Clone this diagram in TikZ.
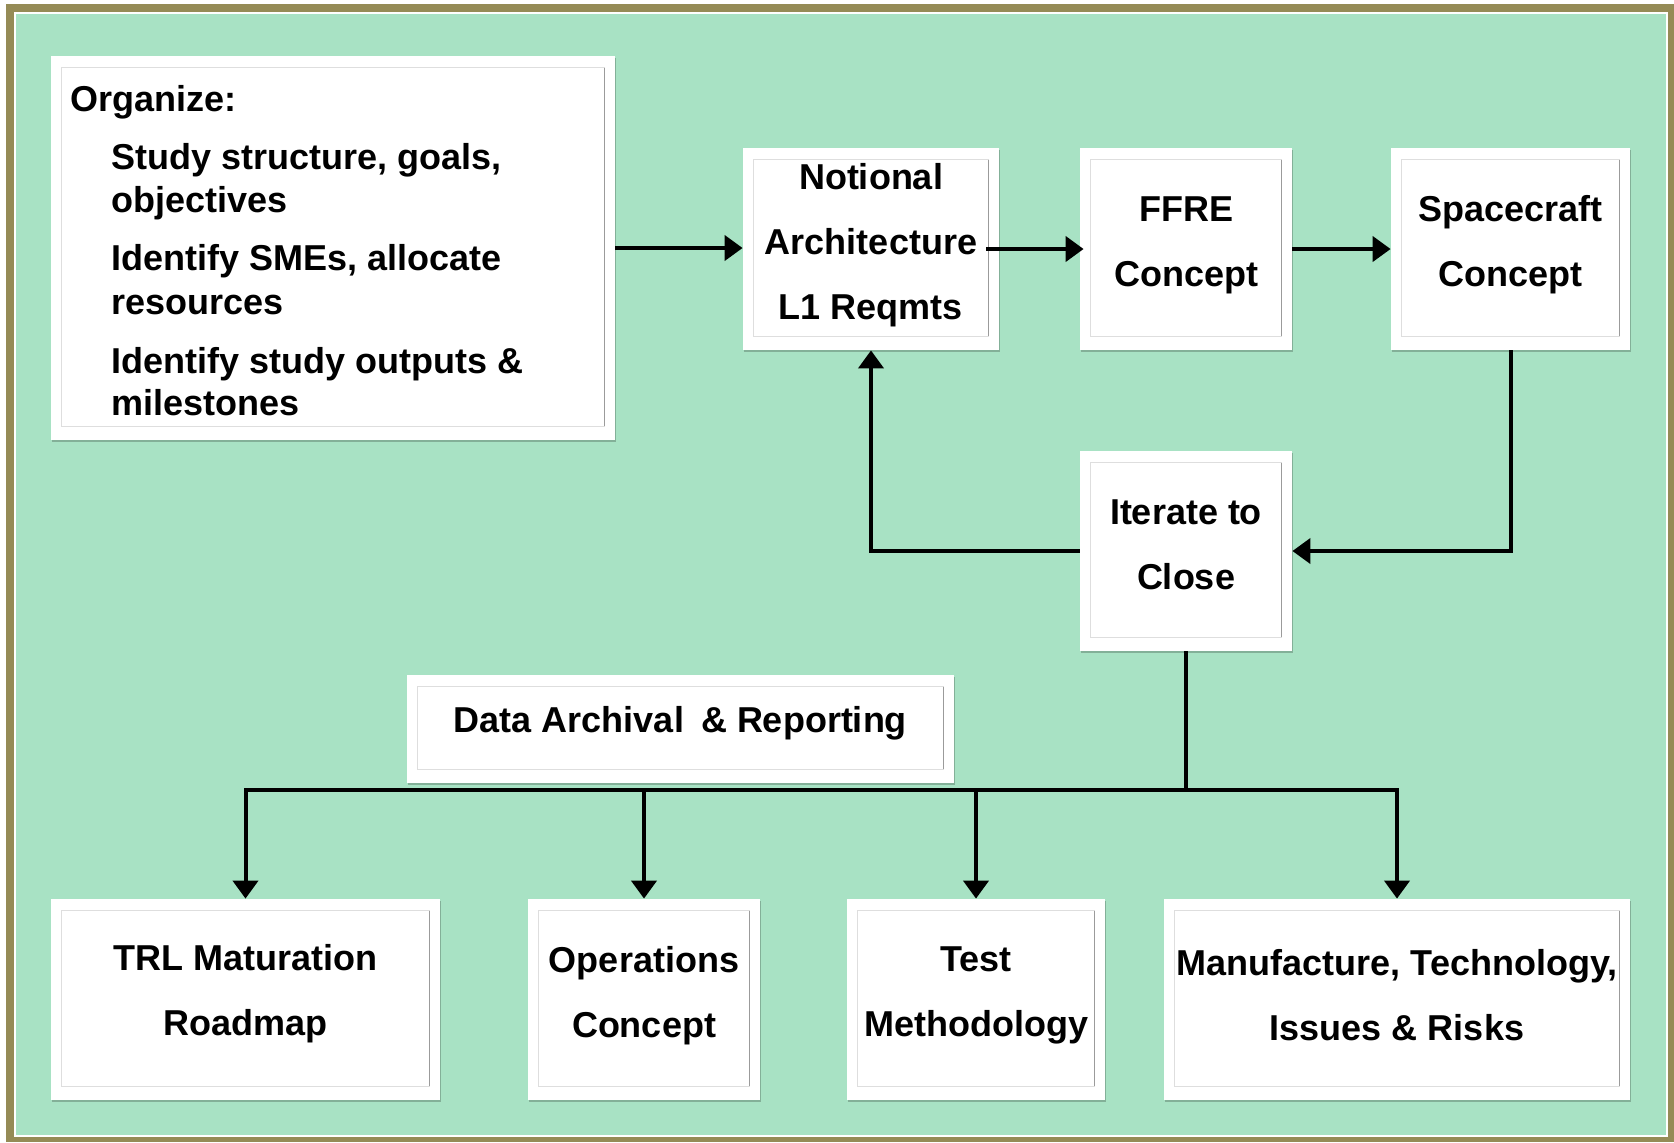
\documentclass[tikz,border=0pt]{standalone}
\usepackage{fontspec}
\setmainfont{Liberation Sans}
\usetikzlibrary{arrows.meta,shadows,calc}
\definecolor{olivefr}{RGB}{149,139,86}
\definecolor{bggreen}{RGB}{168,226,196}
\definecolor{inl}{RGB}{222,222,222}
\definecolor{inr}{RGB}{155,155,155}
\begin{document}
\begin{tikzpicture}[x=0.5pt,y=-0.5pt,
  box/.style={fill=white, draw=none, inner sep=0pt,
    drop shadow={shadow xshift=0.6pt,shadow yshift=-0.9pt,fill=black,opacity=0.22}},
  txt/.style={font=\fontsize{18}{32.5}\selectfont\bfseries, align=center, inner sep=0pt},
  orgline/.style={font=\fontsize{18}{21.75}\selectfont\bfseries, anchor=base west, inner sep=0pt},
  arr/.style={line width=2pt, -{Triangle[width=12.5pt,length=9pt]}},
  conn/.style={line width=2pt},
  inframe/.style={draw=inl, line width=0.8pt},
  inframer/.style={draw=inr, line width=0.8pt}]

\useasboundingbox (0,0) rectangle (1674,1142);
\fill[white] (0,0) rectangle (1674,1142);
\fill[olivefr] (6,4) rectangle (1674,1142);
\fill[white] (14,12) rectangle (1668,1137);
\fill[bggreen] (16,14) rectangle (1666,1135);

% boxes
\node[box, minimum width=282pt, minimum height=192pt] (org) at (333,248) {};
\node[box, minimum width=128pt, minimum height=101pt] (notional) at (871,249) {};
\node[box, minimum width=106pt, minimum height=101pt] (ffre) at (1186,249) {};
\node[box, minimum width=119.5pt, minimum height=101pt] (space) at (1510.5,249) {};
\node[box, minimum width=106pt, minimum height=100pt] (iter) at (1186,551) {};
\node[box, minimum width=273.5pt, minimum height=54pt] (data) at (680.5,729) {};
\node[box, minimum width=194.5pt, minimum height=100.5pt] (trl) at (245.5,999.5) {};
\node[box, minimum width=116pt, minimum height=100.5pt] (ops) at (644,999.5) {};
\node[box, minimum width=129pt, minimum height=100.5pt] (test) at (976,999.5) {};
\node[box, minimum width=233pt, minimum height=100.5pt] (manu) at (1397,999.5) {};

\foreach \n in {org,notional,ffre,space,iter,data,trl,ops,test,manu}{
  \draw[inframe] ([xshift=5.5pt,yshift=-6pt]\n.north west) rectangle ([xshift=-5.5pt,yshift=7pt]\n.south east);
  \draw[inframer] ([xshift=-5.5pt,yshift=-6pt]\n.north east) -- ([xshift=-5.5pt,yshift=7pt]\n.south east);
}

% texts
\node[orgline] (o1) at (70,111) {Organize:};
\node[orgline] (o2) at (111,169) {Study structure, goals,};
\node[orgline] (o3) at (111,212) {objectives};
\node[orgline] (o4) at (111,270) {Identify SMEs, allocate};
\node[orgline] (o5) at (111,314) {resources};
\node[orgline] (o6) at (111,373) {Identify study outputs \&};
\node[orgline] (o7) at (111,415) {milestones};

\node[txt] (notional-t) at ([yshift=2pt]notional.center) {Notional\\Architecture\\L1 Reqmts};
\node[txt] (ffre-t) at ([yshift=2pt]ffre.center) {FFRE\\Concept};
\node[txt] (space-t) at ([yshift=2pt]space.center) {Spacecraft\\Concept};
\node[txt] (iter-t) at ([yshift=3pt]iter.center) {Iterate to\\Close};
\node[txt] (data-t) at ([yshift=3pt]data.center) {Data Archival\hspace{8.5pt}\& Reporting};
\node[txt] (trl-t) at ([yshift=3pt]trl.center) {TRL Maturation\\Roadmap};
\node[txt] (ops-t) at ([yshift=2pt]ops.center) {Operations\\Concept};
\node[txt] (test-t) at ([yshift=2pt]test.center) {Test\\Methodology};
\node[txt] (manu-t) at ([yshift=2pt]manu.center) {Manufacture, Technology,\\Issues \& Risks};

% connectors
\draw[arr] (org.east) -- (org.east -| notional.west);
\draw[arr] ([xshift=-6.5pt]notional.east) -- ([xshift=2pt]ffre.west);
\draw[arr] (ffre.east) -- (space.west);
\draw[arr] (space.south) |- (iter.east);
\draw[arr] (iter.west) -| (notional.south);
\coordinate (busy) at (0,790);
\coordinate (bus) at (iter.south |- busy);
\draw[conn] (iter.south) -- (bus);
\draw[arr] (bus) -| (trl.north);
\draw[arr] (bus) -| (ops.north);
\draw[arr] (bus) -| (test.north);
\draw[arr] (bus) -| (manu.north);
\end{tikzpicture}
\end{document}
